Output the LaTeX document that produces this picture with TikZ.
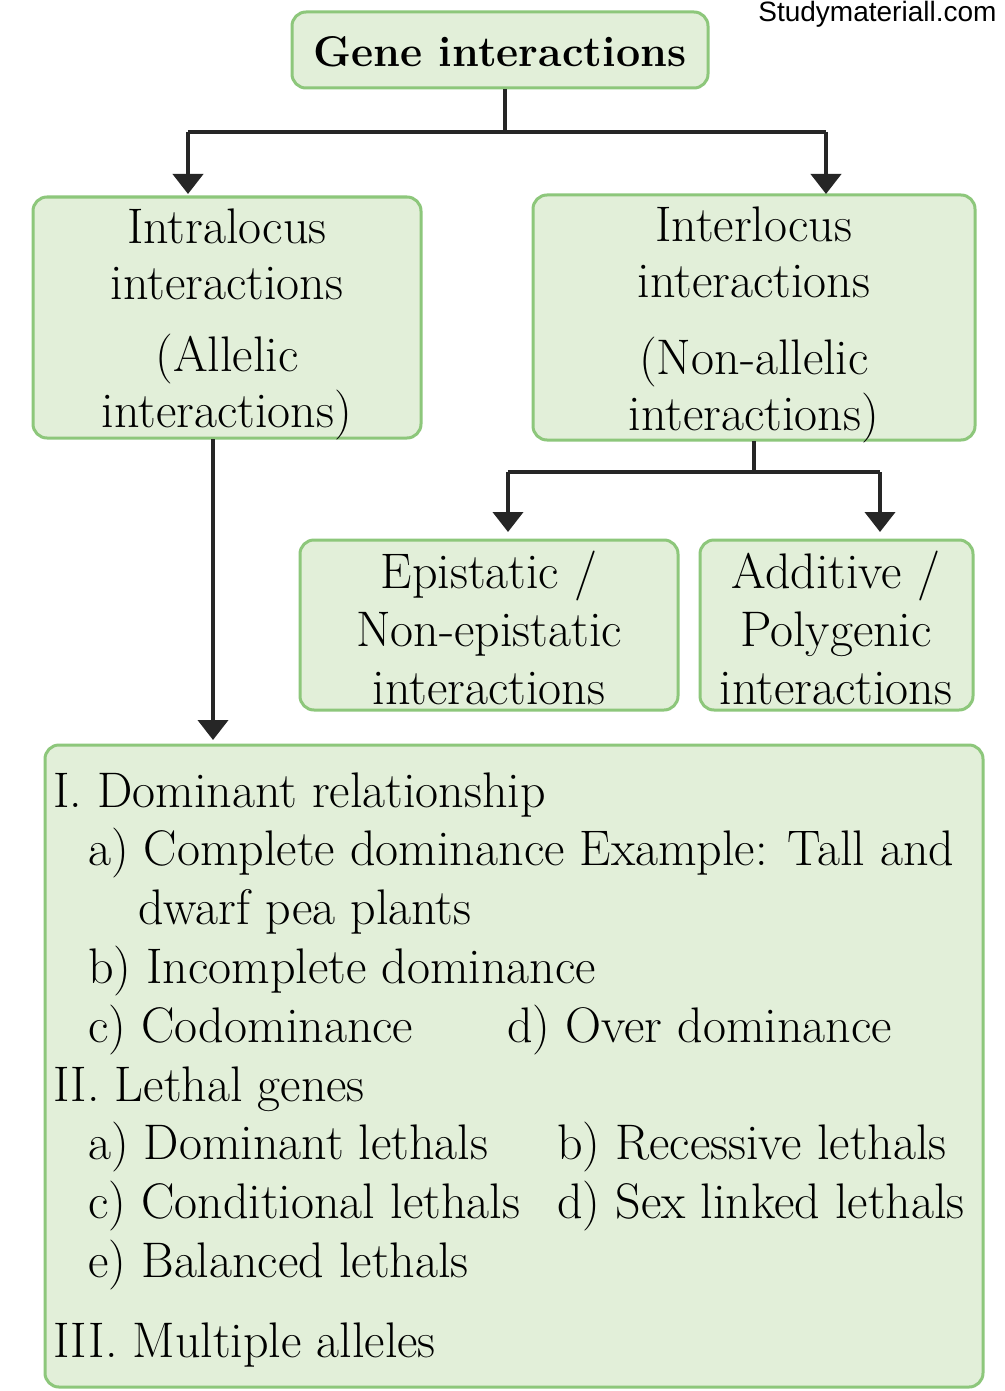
\documentclass[tikz,border=0pt]{standalone}
\usepackage{fontspec}
\newfontfamily\wm{Liberation Sans}
\usetikzlibrary{arrows.meta}
\definecolor{bfill}{HTML}{E2EFD9}
\definecolor{bdraw}{HTML}{8DC77B}
\begin{document}
\begin{tikzpicture}[x=1pt,y=-1pt,
 box/.style={draw=bdraw,line width=3pt,fill=bfill,rounded corners=14pt},
 conn/.style={line width=4pt,draw=black!85,-{Triangle[length=20pt,width=30pt]}},
 line/.style={line width=4pt,draw=black!85},
 t/.style={font=\fontsize{50}{56}\selectfont,align=center,inner sep=0},
 it/.style={font=\fontsize{50}{57}\selectfont,anchor=west,inner sep=0}]
\useasboundingbox[fill=white] (0,0) rectangle (1004,1391);
\node[font=\wm\fontsize{28}{30}\selectfont,anchor=east] (wm) at (1000,14) {Studymateriall.com};
\draw[box] (292,12) rectangle (708,88);
\node[t,font=\bfseries\fontsize{43}{50}\selectfont] (g) at (500,52) {Gene interactions};
\draw[box] (33,197) rectangle (421,438);
\node[t] (ia) at (227,254) {Intralocus\\interactions};
\node[t] (ib) at (227,387) {(Allelic\\interactions)};
\draw[box] (533,195) rectangle (975,440);
\node[t] (na) at (754,252) {Interlocus\\interactions};
\node[t] (nb) at (754,390) {(Non-allelic\\interactions)};
\draw[box] (300,540) rectangle (678,710);
\node[t,font=\fontsize{50}{58}\selectfont] (ep) at (489,628) {Epistatic /\\Non-epistatic\\interactions};
\draw[box] (700,540) rectangle (973,710);
\node[t,font=\fontsize{50}{58}\selectfont] (ad) at (836,628) {Additive /\\Polygenic\\interactions};
\draw[box] (45,745) rectangle (983,1387);
\node[it] (l1) at (53,795) {I. Dominant relationship};
\node[it] (l2) at (88,853) {a) Complete dominance Example: Tall and};
\node[it] (l3) at (138,912) {dwarf pea plants};
\node[it] (l4) at (88,971) {b) Incomplete dominance};
\node[it] (l5) at (88,1030) {c) Codominance};
\node[it] (l5b) at (507,1030) {d) Over dominance};
\node[it] (l6) at (53,1089) {II. Lethal genes};
\node[it] (l7) at (88,1147) {a) Dominant lethals};
\node[it] (l7b) at (557,1147) {b) Recessive lethals};
\node[it] (l8) at (88,1206) {c) Conditional lethals};
\node[it] (l8b) at (557,1206) {d) Sex linked lethals};
\node[it] (l9) at (88,1265) {e) Balanced lethals};
\node[it] (l10) at (53,1345) {III. Multiple alleles};
\coordinate (g0) at (505,89);
\coordinate (gm) at (505,132);
\coordinate (gl) at (188,132);
\coordinate (gr) at (826,132);
\coordinate (gle) at (188,194);
\coordinate (gre) at (826,194);
\draw[line] (g0) -- (gm) (gl) -- (gr);
\draw[conn] (gl) -- (gle);
\draw[conn] (gr) -- (gre);
\coordinate (i0) at (213,439);
\coordinate (i1) at (213,740);
\draw[conn] (i0) -- (i1);
\coordinate (n0) at (754,441);
\coordinate (nm) at (754,472);
\coordinate (nl) at (508,472);
\coordinate (nr) at (880,472);
\coordinate (nle) at (508,532);
\coordinate (nre) at (880,532);
\draw[line] (n0) -- (nm) (nl) -- (nr);
\draw[conn] (nl) -- (nle);
\draw[conn] (nr) -- (nre);
\end{tikzpicture}
\end{document}
